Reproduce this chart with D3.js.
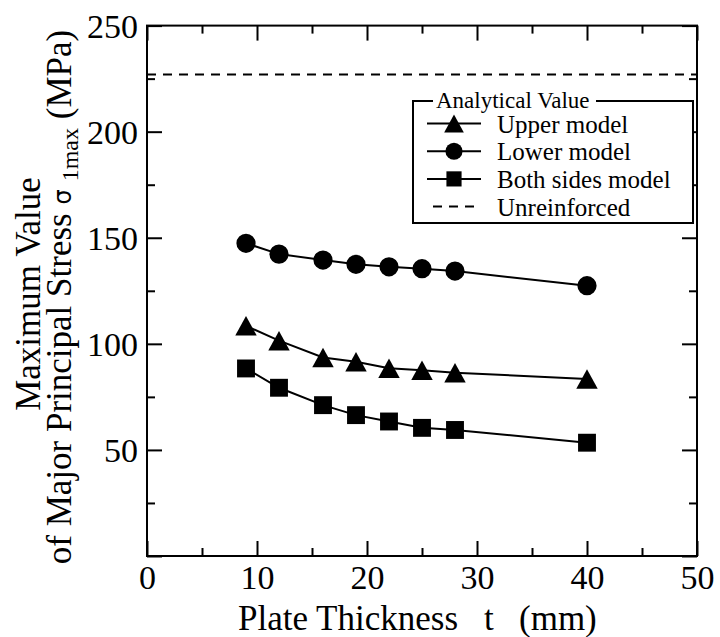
<!DOCTYPE html>
<html>
<head>
<meta charset="utf-8">
<script src="https://cdn.jsdelivr.net/npm/d3@7"></script>
<style>
  body { margin: 0; background: #fff; }
  svg { display: block; font-family: "Liberation Serif", "DejaVu Serif", serif; }
  .frame { fill: none; stroke: #000; stroke-width: 2px; }
  .tick line { stroke: #000; stroke-width: 2px; }
  .domain { display: none; }
  .tick text { fill: #000; font-size: 34px; font-family: "Liberation Serif", serif; }
</style>
</head>
<body>
<svg id="container" width="720" height="637"></svg>
<script>
// data
const thickness = [9, 12, 16, 19, 22, 25, 28, 40];
const upperModel = [108.5, 101.5, 93.6, 91.6, 88.5, 87.5, 86.4, 83.4];
const lowerModel = [147.4, 142.3, 139.5, 137.5, 136.3, 135.4, 134.3, 127.4];
const bothSidesModel = [88.4, 79.3, 71.1, 66.4, 63.4, 60.4, 59.4, 53.4];
const unreinforced = 227;

const xMajor = [0, 10, 20, 30, 40, 50];
const xMinor = [5, 15, 25, 35, 45];
const yMajor = [0, 50, 100, 150, 200, 250];
const yMinor = [25, 75, 125, 175, 225];
const yLabels = [50, 100, 150, 200, 250];

const legendNames = ["Upper model", "Lower model", "Both sides model", "Unreinforced"];

const mLeft = 147, mRight = 697, mTop = 25.6, mBottom = 556;
const width = mRight - mLeft, height = mBottom - mTop;

const svg = d3.select("#container");
const plot = svg.append("g").attr("transform", `translate(${mLeft},${mTop})`);

const x = d3.scaleLinear().domain([0, 50]).range([0, width]);
const y = d3.scaleLinear().domain([0, 250]).range([height, 0]);

// triangle centred on its bounding box
const triangleBox = {
  draw(ctx, size) {
    const s = Math.sqrt(size);
    ctx.moveTo(0, -s / 2);
    ctx.lineTo(s * 0.55, s / 2);
    ctx.lineTo(-s * 0.55, s / 2);
    ctx.closePath();
  }
};

function renderTicks(axis, vals, len, pos, labels) {
  const g = plot.append("g")
    .attr("transform", pos)
    .call(axis.tickValues(vals).tickSize(len).tickSizeOuter(0)
      .tickFormat(labels ? (d => labels.includes(d) ? d : "") : ""));
  return g;
}

function drawAxis() {
  // bottom
  renderTicks(d3.axisBottom(x), xMajor, -15, `translate(0,${height})`, xMajor)
    .selectAll("text").attr("y", 9).attr("dy", "0.71em");
  renderTicks(d3.axisBottom(x), xMinor, -8, `translate(0,${height})`);
  // top
  renderTicks(d3.axisTop(x), xMajor, -15, "translate(0,0)");
  renderTicks(d3.axisTop(x), xMinor, -8, "translate(0,0)");
  // left
  renderTicks(d3.axisLeft(y), yMajor, -15, "translate(0,0)", yLabels)
    .selectAll("text").attr("x", -9).attr("dy", "0.34em");
  renderTicks(d3.axisLeft(y), yMinor, -8, "translate(0,0)");
  // right
  renderTicks(d3.axisRight(y), yMajor, -15, `translate(${width},0)`);
  renderTicks(d3.axisRight(y), yMinor, -8, `translate(${width},0)`);

  plot.append("rect").attr("class", "frame")
    .attr("x", 0).attr("y", 0).attr("width", width).attr("height", height);
}

function drawSeries(values, type, size) {
  const pts = thickness.map((t, i) => [t, values[i]]);
  const g = plot.append("g");
  g.append("path")
    .datum(pts)
    .attr("fill", "none")
    .attr("stroke", "#000")
    .attr("stroke-width", 2)
    .attr("d", d3.line().x(d => x(d[0])).y(d => y(d[1])));
  g.selectAll("path.mark")
    .data(pts)
    .enter()
    .append("path")
    .attr("class", "mark")
    .attr("transform", d => `translate(${x(d[0])},${y(d[1])})`)
    .attr("d", d3.symbol().type(type).size(size));
}

drawAxis();

plot.append("line")
  .attr("x1", 0).attr("x2", width)
  .attr("y1", y(unreinforced)).attr("y2", y(unreinforced))
  .attr("stroke", "#000").attr("stroke-width", 2)
  .attr("stroke-dasharray", "9,7");

drawSeries(lowerModel, d3.symbolCircle, 290);
drawSeries(upperModel, triangleBox, 380);
drawSeries(bothSidesModel, d3.symbolSquare, 320);

// legend
const lg = svg.append("g");
const lx = 413, ly = 101, lw = 280, lh = 122;
lg.append("rect").attr("x", lx).attr("y", ly).attr("width", lw).attr("height", lh).attr("fill", "#fff");
lg.append("path")
  .attr("fill", "none").attr("stroke", "#000").attr("stroke-width", 2)
  .attr("d", `M${lx + 20},${ly} H${lx} V${ly + lh} H${lx + lw} V${ly} H${lx + 183}`);
lg.append("text")
  .attr("x", lx + 23).attr("y", ly + 7)
  .style("font-size", "23px")
  .text("Analytical Value");

const legendTypes = [triangleBox, d3.symbolCircle, d3.symbolSquare, null];
const legendSizes = [320, 230, 230, 0];
legendNames.forEach((name, i) => {
  const cy = 123.5 + i * 27.7;
  if (legendTypes[i]) {
    lg.append("line").attr("x1", 427).attr("x2", 481).attr("y1", cy).attr("y2", cy)
      .attr("stroke", "#000").attr("stroke-width", 2);
    lg.append("path")
      .attr("transform", `translate(454,${cy})`)
      .attr("d", d3.symbol().type(legendTypes[i]).size(legendSizes[i]));
  } else {
    lg.append("line").attr("x1", 433).attr("x2", 481).attr("y1", cy).attr("y2", cy)
      .attr("stroke", "#000").attr("stroke-width", 2)
      .attr("stroke-dasharray", "9,7");
  }
  lg.append("text")
    .attr("x", 497).attr("y", cy + 9)
    .style("font-size", "25px")
    .text(name);
});

// axis titles
const xt = svg.append("text").attr("y", 630).style("font-size", "35px");
xt.append("tspan").attr("x", 238).text("Plate Thickness");
xt.append("tspan").attr("x", 484).text("t");
xt.append("tspan").attr("x", 519).text("(mm)");

svg.append("text")
  .attr("transform", "translate(40,294) rotate(-90)")
  .attr("text-anchor", "middle")
  .style("font-size", "35px")
  .text("Maximum Value");

const yt = svg.append("text")
  .attr("transform", "translate(71,297) rotate(-90)")
  .attr("text-anchor", "middle")
  .style("font-size", "35px");
yt.append("tspan").text("of Major Principal Stress ");
yt.append("tspan").style("font-family", "DejaVu Sans").style("font-size", "24px").text("\u03c3");
yt.append("tspan").attr("dx", 8).attr("dy", 7).style("font-size", "24px").text("1max");
yt.append("tspan").attr("dy", -7).text(" (MPa)");
</script>
</body>
</html>
